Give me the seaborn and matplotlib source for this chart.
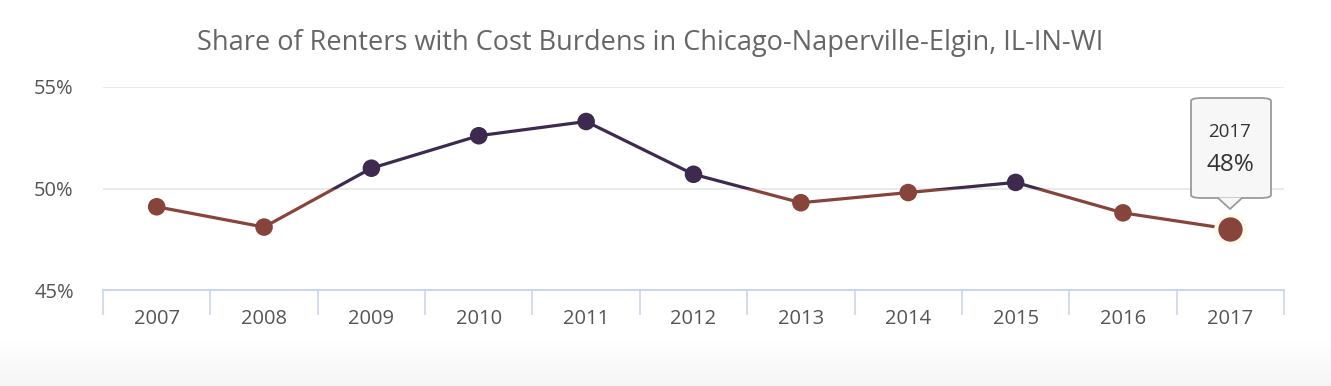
"""
Line chart: share of renters with cost burdens, Chicago metro
"""
import numpy as np
import pandas as pd
import matplotlib.pyplot as plt
import matplotlib.patches as mpatches
from matplotlib.colors import LinearSegmentedColormap
import seaborn as sns

# Data
years = ['2007', '2008', '2009', '2010', '2011', '2012',
         '2013', '2014', '2015', '2016', '2017']
share = [49.1, 48.1, 51.0, 52.6, 53.3, 50.7, 49.3, 49.8, 50.3, 48.8, 48.0]
threshold = 50.0

purple = '#3d2a4e'
brown = '#86443a'

df = pd.DataFrame({'pos': range(len(years)), 'share': share})
df['zone'] = np.where(df['share'] >= threshold, 'above', 'below')

sns.set_style('white')
plt.rcParams['font.family'] = ['Open Sans', 'DejaVu Sans']

W, H = 1331, 386
fig = plt.figure(figsize=(W / 100, H / 100), dpi=100)

# soft grey fade at the bottom of the frame
bg = fig.add_axes([0, 0, 1, 45 / H], zorder=-10)
fade = LinearSegmentedColormap.from_list('fade', ['#ffffff', '#f5f5f5'])
grad = np.linspace(0, 1, 50).reshape(-1, 1)
bg.imshow(grad, aspect='auto', cmap=fade, origin='upper',
          extent=[0, 1, 0, 1], vmin=0, vmax=1)
bg.axis('off')

ax = fig.add_axes([103 / W, 1 - 290 / H, (1284 - 103) / W, (290 - 87) / H])
ax.patch.set_alpha(0)

# line drawn twice, each clipped to its side of the threshold
for color, y0, y1 in [(purple, threshold, 60), (brown, 40, threshold)]:
    before = len(ax.lines)
    sns.lineplot(data=df, x='pos', y='share', color=color, linewidth=2.3, ax=ax,
                 zorder=3, legend=False)
    clip = mpatches.Rectangle((-1, y0), 13, y1 - y0, transform=ax.transData)
    for ln in ax.lines[before:]:
        ln.set_clip_path(clip)

sns.scatterplot(data=df.iloc[:-1], x='pos', y='share', hue='zone',
                palette={'above': purple, 'below': brown}, s=160, linewidth=0,
                ax=ax, zorder=4, legend=False)
# hovered last point
sns.scatterplot(data=df.iloc[-1:], x='pos', y='share', color=brown, s=420,
                linewidth=3, edgecolor='#fffbea', ax=ax, zorder=5, legend=False)

ax.set_xlim(-0.5, len(years) - 0.5)
ax.set_ylim(45, 55)
ax.set_yticks([45, 50, 55])
ax.set_yticklabels(['45%', '50%', '55%'])
ax.set_xticks(range(len(years)))
ax.set_xticklabels(years)
ax.set_xticks(np.arange(-0.5, len(years)), minor=True)
ax.tick_params(axis='x', which='major', bottom=False, length=0, pad=14,
               labelsize=14.5, labelcolor='#555555')
ax.tick_params(axis='x', which='minor', bottom=True, length=18, width=1.2,
               color='#ccd6eb', direction='out')
ax.tick_params(axis='y', length=0, pad=21, labelsize=14.5, labelcolor='#555555')
ax.set_xlabel('')
ax.set_ylabel('')

ax.grid(axis='y', color='#e6e6e6', linewidth=1.2)
ax.grid(axis='x', visible=False)
ax.set_axisbelow(True)
for side in ['top', 'right', 'left']:
    ax.spines[side].set_visible(False)
ax.spines['bottom'].set_color('#ccd6eb')
ax.spines['bottom'].set_linewidth(1.5)

fig.text(650 / W, 1 - 43 / H,
         'Share of Renters with Cost Burdens in Chicago-Naperville-Elgin, IL-IN-WI',
         ha='center', va='center', fontsize=19.5, color='#666666')

# tooltip box for the last point
box = mpatches.FancyBboxPatch((1191 / W, 1 - 198 / H), 80 / W, 100 / H,
                              boxstyle='round,pad=0,rounding_size=0.008',
                              transform=fig.transFigure, facecolor='#f7f7f7',
                              edgecolor='#9a9a9a', linewidth=1.3, zorder=20)
fig.patches.append(box)
tri = mpatches.Polygon([(1218 / W, 1 - 197.5 / H), (1242 / W, 1 - 197.5 / H),
                        (1230 / W, 1 - 209 / H)], closed=True,
                       transform=fig.transFigure, facecolor='#f7f7f7',
                       edgecolor='none', zorder=21)
fig.patches.append(tri)
edge = plt.Line2D([1218 / W, 1230 / W, 1242 / W],
                  [1 - 198 / H, 1 - 209 / H, 1 - 198 / H],
                  transform=fig.transFigure, color='#9a9a9a', linewidth=1.3, zorder=22)
fig.lines.append(edge)
fig.text(1230 / W, 1 - 132 / H, years[-1], ha='center', va='center',
         fontsize=13.5, color='#333333', zorder=23)
fig.text(1230 / W, 1 - 165 / H, f'{share[-1]:.0f}%', ha='center', va='center',
         fontsize=17.5, color='#333333', fontweight='medium', zorder=23)

fig.savefig('out.png', dpi=100)
print('saved out.png')
